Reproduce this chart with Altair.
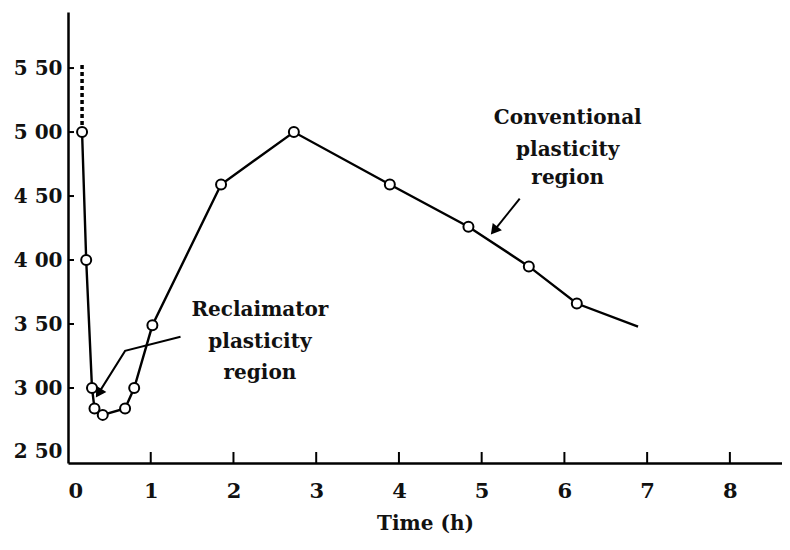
import altair as alt
import pandas as pd

# ---- data ----
time_h = [0.17, 0.22, 0.29, 0.32, 0.42, 0.69, 0.80, 1.02, 1.85, 2.73, 3.89, 4.84, 5.57, 6.15, 6.89]
value = [500, 400, 300, 284, 279, 284, 300, 349, 459, 500, 459, 426, 395, 366, 348]
has_marker = [True] * 14 + [False]

dotted_t = [0.17, 0.17]
dotted_v = [500, 554]

x_ticks = [0, 1, 2, 3, 4, 5, 6, 7, 8]
y_ticks = [250, 300, 350, 400, 450, 500, 550]

ann_text = ["Reclaimator", "plasticity", "region", "Conventional", "plasticity", "region"]
ann_t = [2.32, 2.32, 2.32, 6.04, 6.04, 6.04]
ann_v = [361, 336, 312, 511, 486, 464]

arrow_id = ["a", "a", "a", "b", "b"]
arrow_t = [1.36, 0.69, 0.37, 5.46, 5.15]
arrow_v = [340, 329, 296, 448, 423]
head_t = [0.37, 5.15]
head_v = [296, 423]
head_angle = [212, 219]

W, H = 714, 451
FONT = "DejaVu Serif"

xs = alt.Scale(domain=[0, 8.63], nice=False, zero=False)
ys = alt.Scale(domain=[241.4, 593.8], nice=False, zero=False)

df = pd.DataFrame({"t": time_h, "v": value, "m": has_marker, "o": list(range(len(time_h)))})
ddf = pd.DataFrame({"t": dotted_t, "v": dotted_v})
adf = pd.DataFrame({"txt": ann_text, "t": ann_t, "v": ann_v})
arr = pd.DataFrame({"id": arrow_id, "t": arrow_t, "v": arrow_v, "o": list(range(len(arrow_t)))})
hdf = pd.DataFrame({"t": head_t, "v": head_v, "a": head_angle})
xt = pd.DataFrame({"t": [v for v in x_ticks if v > 0]})
yt = pd.DataFrame({"v": [v for v in y_ticks if v > 250]})

base_x = alt.X("t:Q", scale=xs, axis=alt.Axis(values=x_ticks, title="Time  (h)", format="d",
                                               labelFont=FONT, labelFontSize=21, labelFontWeight="bold",
                                               labelPadding=17,
                                               titleFont=FONT, titleFontSize=20, titleFontWeight="bold",
                                               titlePadding=12, ticks=False, grid=False,
                                               domainColor="black", domainWidth=2.5,
                                               labelColor="#111", titleColor="#111"))
base_y = alt.Y("v:Q", scale=ys, axis=alt.Axis(values=y_ticks, title=None,
                                               labelExpr="substring(toString(datum.value),0,1) + ' ' + substring(toString(datum.value),1)",
                                               labelFont=FONT, labelFontSize=20, labelFontWeight="bold",
                                               labelPadding=6,
                                               ticks=False, grid=False, domainColor="black",
                                               domainWidth=2.5, labelColor="#111"))

X = alt.X("t:Q", scale=xs)
Y = alt.Y("v:Q", scale=ys)

line = alt.Chart(df).mark_line(color="black", strokeWidth=2.4).encode(x=base_x, y=base_y, order="o:Q")
pts = alt.Chart(df).transform_filter("datum.m").mark_point(
    shape="circle", size=100, filled=True, fill="white", stroke="black", strokeWidth=2, opacity=1
).encode(x=X, y=Y)
dots = alt.Chart(ddf).mark_line(color="black", strokeWidth=3.5, strokeDash=[4, 3]).encode(x=X, y=Y)
txt = alt.Chart(adf).mark_text(font=FONT, fontSize=20, fontWeight="bold", color="#111",
                               baseline="middle", align="center").encode(x=X, y=Y, text="txt:N")
arrows = alt.Chart(arr).mark_line(color="black", strokeWidth=2).encode(x=X, y=Y, detail="id:N", order="o:Q")
heads = alt.Chart(hdf).mark_point(shape="triangle-up", size=140, filled=True, color="black", opacity=1).encode(
    x=X, y=Y, angle=alt.Angle("a:Q", scale=None))
xtick = alt.Chart(xt).mark_rule(color="black", strokeWidth=2).encode(
    x=X, y=alt.value(H - 11), y2=alt.value(H))
ytick = alt.Chart(yt).mark_rule(color="black", strokeWidth=2).encode(
    y=Y, x=alt.value(0), x2=alt.value(6))

chart = alt.layer(line, dots, arrows, heads, pts, txt, xtick, ytick).properties(
    width=W, height=H, background="white", autosize=alt.AutoSizeParams(type="none"),
    padding={"left": 60, "top": 4, "right": 0, "bottom": 75}
).configure_view(stroke="transparent", strokeWidth=0).configure_axis(grid=False)

chart.save("out.html", embed_options={"renderer": "svg", "actions": False})
